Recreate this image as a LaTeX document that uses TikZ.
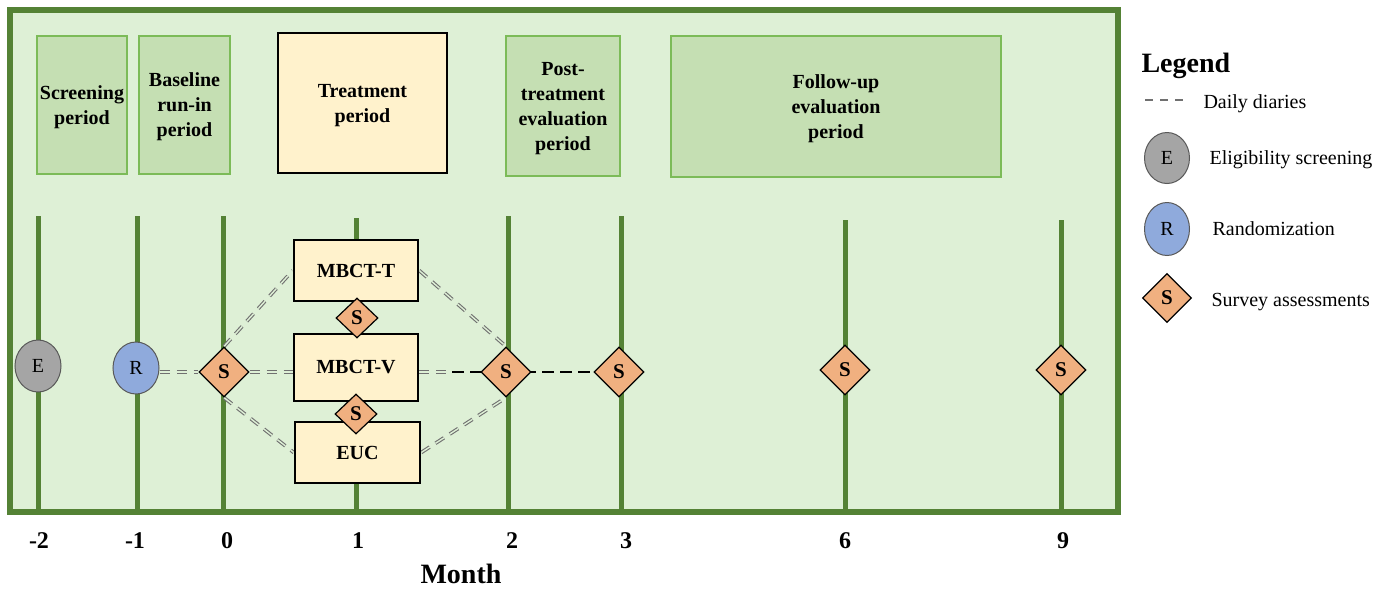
\documentclass[tikz,border=0pt]{standalone}
\usepackage{fontspec}
\setmainfont{Liberation Serif}
\usetikzlibrary{shapes.geometric}

\definecolor{framegreen}{HTML}{548235}
\definecolor{bggreen}{HTML}{DEF0D6}
\definecolor{periodgreen}{HTML}{C5DFB3}
\definecolor{periodedge}{HTML}{7CBB58}
\definecolor{armyellow}{HTML}{FFF2CC}
\definecolor{surveyorange}{HTML}{F0B080}
\definecolor{eligray}{HTML}{A5A5A5}
\definecolor{randblue}{HTML}{8FAADC}
\definecolor{diarygray}{HTML}{707070}

\pgfdeclarelayer{base}
\pgfdeclarelayer{links}
\pgfsetlayers{base,links,main}

\tikzset{
    period/.style={draw=periodedge, fill=periodgreen, line width=1.2pt, inner sep=0pt,
        align=center, text depth=-5pt, font=\bfseries\fontsize{20}{25}\selectfont},
    arm/.style={draw=black, fill=armyellow, line width=2.5pt, minimum width=124pt,
        inner sep=0pt, font=\bfseries\fontsize{20}{24}\selectfont},
    survey/.style={diamond, draw=black, fill=surveyorange, line width=1.2pt,
        minimum width=50pt, minimum height=50pt, inner sep=0pt,
        font=\bfseries\fontsize{21}{24}\selectfont},
    smallsurvey/.style={survey, minimum width=42pt, minimum height=40pt},
    visit/.style={ellipse, draw=black!65, line width=1pt, minimum width=46pt,
        minimum height=52pt, inner sep=0pt, font=\fontsize{20}{24}\selectfont},
    monthline/.style={draw=framegreen, line width=5pt},
    diary/.style={draw=diarygray, double=bggreen, line width=1.1pt, double distance=1.4pt,
        dash pattern=on 10pt off 7pt},
    followon/.style={draw=black, line width=2.5pt, dash pattern=on 12pt off 6pt},
    monthnum/.style={font=\bfseries\fontsize{24}{28}\selectfont},
    legtext/.style={anchor=base west, font=\fontsize{20}{24}\selectfont}
}

\begin{document}
\begin{tikzpicture}[x=1pt, y=-1pt]
    \useasboundingbox (0,0) rectangle (1390,590);

    % frame and month lines
    \begin{pgfonlayer}{base}
        \node[draw=framegreen, fill=bggreen, line width=6pt, minimum width=1108pt,
            minimum height=502pt, inner sep=0pt] (frame) at (564,261) {};
        \coordinate (top-2) at (38,216);
        \coordinate (top-1) at (137,216);
        \coordinate (top0) at (223,216);
        \coordinate (top1) at (356,218);
        \coordinate (top2) at (508,216);
        \coordinate (top3) at (621,216);
        \coordinate (top6) at (845,220);
        \coordinate (top9) at (1061,220);
        \draw[monthline] (top-2) -- (top-2 |- frame.south);
        \draw[monthline] (top-1) -- (top-1 |- frame.south);
        \draw[monthline] (top0) -- (top0 |- frame.south);
        \draw[monthline] (top1) -- (top1 |- frame.south);
        \draw[monthline] (top2) -- (top2 |- frame.south);
        \draw[monthline] (top3) -- (top3 |- frame.south);
        \draw[monthline] (top6) -- (top6 |- frame.south);
        \draw[monthline] (top9) -- (top9 |- frame.south);
    \end{pgfonlayer}

    % periods
    \node[period, minimum width=90pt, minimum height=138pt] (screening) at (82,105) {Screening\\period};
    \node[period, minimum width=91pt, minimum height=138pt] (baseline) at (184.5,105) {Baseline\\run-in\\period};
    \node[period, draw=black, fill=armyellow, minimum width=169pt, minimum height=140pt] (treatment) at (362.5,103) {Treatment\\period};
    \node[period, minimum width=114pt, minimum height=140pt] (post) at (563,106) {Post-\\treatment\\evaluation\\period};
    \node[period, minimum width=330pt, minimum height=141pt] (followup) at (836,106.5) {Follow-up\\evaluation\\period};

    % arms
    \node[arm, minimum height=61pt] (mbctt) at (356,270.5) {MBCT-T};
    \node[arm, minimum height=67pt] (mbctv) at (356,367.5) {MBCT-V};
    \node[arm, minimum width=125pt, minimum height=61pt] (euc) at (357.5,452.5) {EUC};
    \node[smallsurvey] (s-tv) at (357,318) {S};
    \node[smallsurvey] (s-ve) at (356,414) {S};

    % visits
    \node[visit, fill=eligray] (elig) at (38,366) {E};
    \node[visit, fill=randblue] (rand) at (136,368) {R};
    \node[survey] (s0) at (224,372) {S};
    \node[survey] (s2) at (506,372) {S};
    \node[survey] (s3) at (619,372) {S};
    \node[survey] (s6) at (845,370) {S};
    \node[survey] (s9) at (1061,370) {S};

    \begin{pgfonlayer}{links}
        \draw[diary] (rand.east |- s0) -- (s0.west);
        \draw[diary] (s0.east) -- (mbctv.west |- s0);
        \draw[diary] (s0.north) -- (mbctt.west);
        \draw[diary] (s0.south) -- (euc.west);
        \draw[diary] (mbctt.east) -- (s2.north);
        \draw[diary] (euc.east) -- (s2.south);
        \coordinate (vsplit) at (452,372);
        \draw[diary] (mbctv.east |- s2) -- (vsplit);
        \draw[followon] (vsplit) -- (s3.west);
    \end{pgfonlayer}

    % months
    \node[monthnum] (lab-2) at (39,541) {-2};
    \node[monthnum] (lab-1) at (135,541) {-1};
    \node[monthnum] (lab0) at (227,541) {0};
    \node[monthnum] (lab1) at (358,541) {1};
    \node[monthnum] (lab2) at (512,541) {2};
    \node[monthnum] (lab3) at (626,541) {3};
    \node[monthnum] (lab6) at (845,541) {6};
    \node[monthnum] (lab9) at (1063,541) {9};
    \node[font=\bfseries\fontsize{28}{32}\selectfont] (monthtitle) at (461,574) {Month};

    % legend
    \node[anchor=base west, font=\bfseries\fontsize{28}{32}\selectfont] (legend) at (1138,72) {Legend};
    \coordinate (dl-a) at (1145,100);
    \coordinate (dl-b) at (1187,100);
    \draw[diarygray, line width=2.5pt, dash pattern=on 8pt off 7pt] (dl-a) -- (dl-b);
    \node[legtext] (leg-dtext) at (1200,108) {Daily diaries};
    \node[visit, fill=eligray, minimum width=45pt, minimum height=51pt] (leg-e) at (1167,158) {E};
    \node[legtext] (leg-etext) at (1206,164) {Eligibility screening};
    \node[visit, fill=randblue, minimum width=45pt, minimum height=53pt] (leg-r) at (1167,229) {R};
    \node[legtext] (leg-rtext) at (1209,235) {Randomization};
    \node[survey, minimum width=49pt, minimum height=49pt] (leg-s) at (1167,298) {S};
    \node[legtext] (leg-stext) at (1208,306) {Survey assessments};
\end{tikzpicture}
\end{document}
